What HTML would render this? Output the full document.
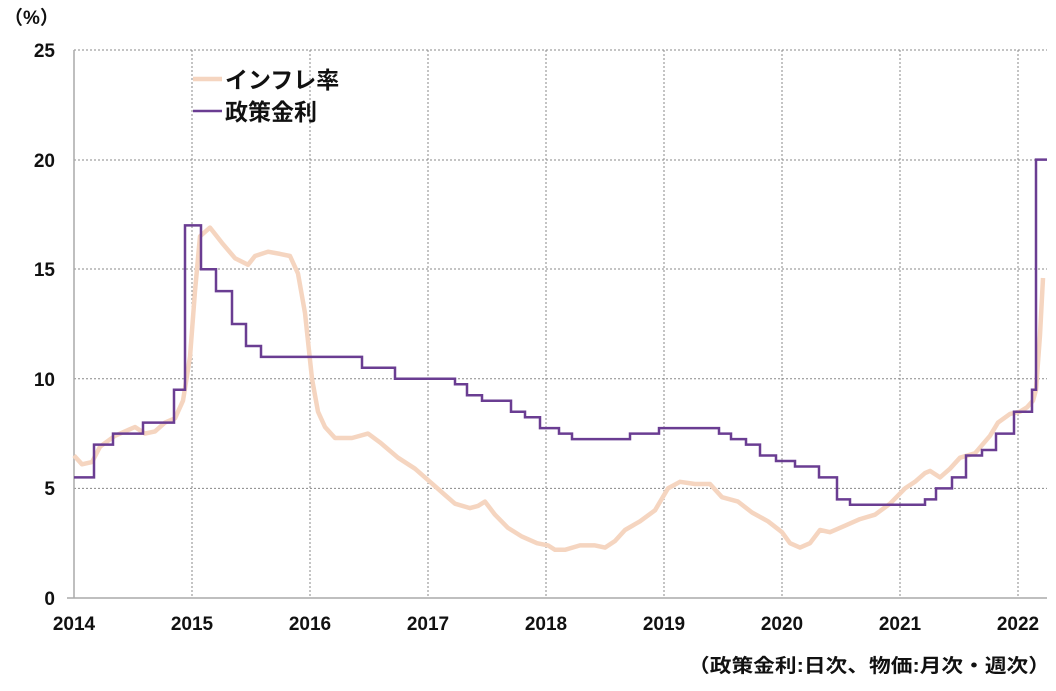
<!DOCTYPE html>
<html><head><meta charset="utf-8"><style>
body{margin:0;background:#fff;}
svg text{font-family:"Liberation Sans","Noto Sans CJK JP",sans-serif;fill:#111;}
</style></head><body>
<svg width="1056" height="686" xmlns="http://www.w3.org/2000/svg">
<g stroke="#888" stroke-width="1" stroke-dasharray="2,2">
<line x1="74" y1="50" x2="1047" y2="50"/>
<line x1="74" y1="160" x2="1047" y2="160"/>
<line x1="74" y1="269" x2="1047" y2="269"/>
<line x1="74" y1="378.8" x2="1047" y2="378.8"/>
<line x1="74" y1="488.4" x2="1047" y2="488.4"/>
<line x1="192" y1="50" x2="192" y2="598"/>
<line x1="310" y1="50" x2="310" y2="598"/>
<line x1="428" y1="50" x2="428" y2="598"/>
<line x1="546" y1="50" x2="546" y2="598"/>
<line x1="664" y1="50" x2="664" y2="598"/>
<line x1="782" y1="50" x2="782" y2="598"/>
<line x1="900" y1="50" x2="900" y2="598"/>
<line x1="1018" y1="50" x2="1018" y2="598"/>
</g>
<g stroke="#aaa" stroke-width="1.5"><line x1="74" y1="50" x2="74" y2="598"/><line x1="67" y1="598" x2="1047" y2="598"/></g>
<g font-size="19" text-anchor="end" font-weight="bold">
<text x="55" y="57">25</text><text x="55" y="167">20</text><text x="55" y="276">15</text>
<text x="55" y="386">10</text><text x="55" y="495">5</text><text x="55" y="605">0</text>
</g>
<g font-size="19" text-anchor="middle" font-weight="bold">
<text x="74" y="630">2014</text><text x="192" y="630">2015</text><text x="310" y="630">2016</text>
<text x="428" y="630">2017</text><text x="546" y="630">2018</text><text x="664" y="630">2019</text>
<text x="782" y="630">2020</text><text x="900" y="630">2021</text><text x="1018" y="630">2022</text>
</g>
<text x="4" y="24" font-size="19" font-weight="bold">（%）</text>
<text x="688" y="672" font-size="19" font-weight="bold" textLength="362" lengthAdjust="spacingAndGlyphs">（政策金利:日次、物価:月次・週次）</text>
<polyline fill="none" stroke="#f5d5c0" stroke-width="4.5" stroke-linejoin="round" points="
74,455.5 82,464.3 92,462.1 100,446.7 115,435.8 130,429.2 135,427 145,433.6 155,431.4 165,422.6 175,418.3 183,400.7 190,356.9 195,291.1 200,236.3 210,227.6 222,242.9 235,258.2 248,264.8 255,256 268,251.7 280,253.9 290,256 298,273.6 305,313 312,378.8 318,411.7 325,427 335,438 352,438 368,433.6 380,442.4 398,457.7 415,468.7 430,481.8 445,495 455,503.7 470,508.1 478,505.9 485,501.6 495,514.7 508,527.9 522,536.6 537,543.2 548,545.4 555,549.8 565,549.8 580,545.4 595,545.4 605,547.6 615,541 625,530 640,521.3 655,510.3 668,488.4 680,481.8 695,484 710,484 722,497.2 738,501.6 752,512.5 768,521.3 782,532.2 790,543.2 800,547.6 810,543.2 820,530 830,532.2 845,525.7 860,519.1 875,514.7 890,503.7 905,488.4 915,481.8 925,473.1 930,470.9 940,477.4 950,468.7 960,457.7 975,453.3 990,435.8 998,422.6 1010,413.9 1020,411.7 1027,407.3 1033,400.7 1036,389.8 1040,335 1043,278"/>
<polyline fill="none" stroke="#6a3d92" stroke-width="2.5" points="
74,477.4 94,477.4 94,444.6 113,444.6 113,433.6 143,433.6 143,422.6 174,422.6 174,389.8 185,389.8 185,225.4 201,225.4 201,269.2 216,269.2 216,291.1 232,291.1 232,324 246,324 246,346 261,346 261,356.9 362,356.9 362,367.8 395,367.8 395,378.8 455,378.8 455,384.3 467,384.3 467,395.2 482,395.2 482,400.7 511,400.7 511,411.7 525,411.7 525,417.2 540,417.2 540,428.1 559,428.1 559,433.6 572,433.6 572,439.1 630,439.1 630,433.6 659,433.6 659,428.1 719,428.1 719,433.6 731,433.6 731,439.1 746,439.1 746,444.6 760,444.6 760,455.5 776,455.5 776,461 795,461 795,466.5 819,466.5 819,477.4 837,477.4 837,499.4 850,499.4 850,504.8 925,504.8 925,499.4 936,499.4 936,488.4 952,488.4 952,477.4 966,477.4 966,455.5 982,455.5 982,450 996,450 996,433.6 1014,433.6 1014,411.7 1032,411.7 1032,389.8 1036,389.8 1036,159.6 1047,159.6"/>
<line x1="193" y1="79" x2="222" y2="79" stroke="#f5d5c0" stroke-width="4.5"/>
<line x1="193" y1="111" x2="222" y2="111" stroke="#6a3d92" stroke-width="2.5"/>
<text x="225" y="88" font-size="23" font-weight="bold">インフレ率</text>
<text x="225" y="120" font-size="23" font-weight="bold">政策金利</text>
</svg>
</body></html>
